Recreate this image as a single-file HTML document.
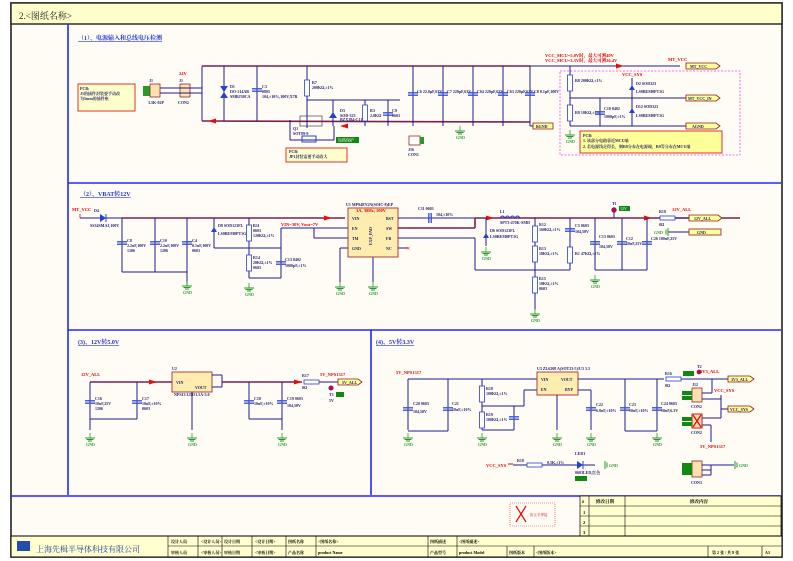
<!DOCTYPE html>
<html><head><meta charset="utf-8"><style>
html,body{margin:0;padding:0;background:#fff;}
svg{display:block;font-family:"Liberation Serif","Noto Serif CJK SC",serif;}
.w{stroke:#1c1c8a;stroke-width:1;fill:none}
.b{stroke:#7a2050;stroke-width:1.6;fill:none}
.f{stroke:#1f2bff;stroke-width:1.6;fill:none}
.t{font-size:4px;fill:#1c1c6a;font-weight:bold}
.r{font-size:4.5px;fill:#e00000;font-weight:bold}
.g{font-size:4px;fill:#2a9a2a;font-weight:bold}
.c{stroke:#3a55d8;stroke-width:1.4}
.res{fill:#fff;stroke:#2a3fd0;stroke-width:0.8}
.d{fill:#1c1c8a}
.nl{fill:#ffff99;stroke:#8a1a1a;stroke-width:0.8}
.nt{fill:#ffffcc;stroke:#e03030;stroke-width:1}
.tb{fill:#ffffd0;stroke:#000;stroke-width:0.7}
.tt{font-size:4.5px;fill:#000;font-weight:bold}
</style></head><body>
<svg width="793" height="561" viewBox="0 0 793 561" xmlns="http://www.w3.org/2000/svg">
<defs>
<g id="gnd"><line x1="0" y1="-5" x2="0" y2="0" stroke="#2a9a2a" stroke-width="0.8"/><path d="M-5 0H5M-3.5 1.5H3.5M-2 3H2" stroke="#2a9a2a" stroke-width="1"/><text x="-4" y="8" class="g">GND</text></g>
<g id="cap"><line x1="-5" y1="-1.2" x2="5" y2="-1.2" class="c"/><line x1="-5" y1="1.2" x2="5" y2="1.2" class="c"/></g>
<g id="res"><rect x="-2.5" y="-8" width="5" height="16" class="res"/></g>
<g id="arr"><path d="M-6 -2.5L2 0L-6 2.5Z" fill="#e01010"/></g>
</defs>
<rect x="0" y="0" width="793" height="561" fill="#fff"/>
<rect x="11" y="3" width="771" height="554" fill="#fffcf6" stroke="#222" stroke-width="1.6"/>
<rect x="11" y="3" width="771" height="21" fill="#ffffcc" stroke="#222" stroke-width="1.4"/>
<text x="19" y="19" font-size="9" fill="#222">2.&lt;图纸名称&gt;</text>
<line x1="68" y1="24" x2="68" y2="495" class="f"/>
<line x1="68" y1="183" x2="781" y2="183" class="f"/>
<line x1="68" y1="330" x2="781" y2="330" class="f"/>
<line x1="371" y1="330" x2="371" y2="495" class="f"/>
<line x1="11" y1="496" x2="781" y2="496" class="f"/>

<text x="78" y="40" font-size="6" fill="#2233cc" font-weight="bold" text-decoration="underline">（1）、电源输入和总线电压检测</text>
<rect x="78" y="84" width="57" height="27" class="nt"/>
<text x="80" y="90" class="t">PCB:</text><text x="80" y="95" class="t">J1的插件封装要手动改</text><text x="80" y="100" class="t">为5mm的插件座</text>
<rect x="143" y="86" width="7" height="10" fill="#2a9a2a"/>
<rect x="150" y="84" width="10" height="13" fill="#ffe0b0" stroke="#8a2a2a" stroke-width="0.8"/>
<text x="149" y="82" class="t">J1</text><text x="148" y="104" class="t">3.5K-02P</text>
<rect x="180" y="84" width="10" height="13" fill="#ffe0b0" stroke="#8a2a2a" stroke-width="0.8"/>
<text x="179" y="82" class="t">J1</text><text x="178" y="104" class="t">CON2</text><text x="179" y="75" class="r">24V</text>
<line x1="160" y1="88" x2="202" y2="88" class="w"/><line x1="160" y1="93" x2="202" y2="93" class="w"/>
<line x1="202" y1="66" x2="202" y2="121" class="w"/>
<line x1="202" y1="66" x2="530" y2="66" class="b"/>
<line x1="530" y1="66" x2="680" y2="66" class="w"/>
<use href="#arr" x="622" y="66"/>
<text x="545" y="57" class="r">VCC_MCU=5.0V时，最大可测40V</text><text x="545" y="62" class="r">VCC_MCU=3.3V时，最大可测26.4V</text>
<text x="668" y="61" class="r">MT_VCC</text>
<polygon points="686,63 716,63 720,66 716,69 686,69" class="nl"/><text x="690" y="68" class="t">MT_VCC</text>
<line x1="202" y1="121" x2="530" y2="122" class="b"/>
<use href="#arr" x="210" y="121" transform="rotate(180 210 121)"/>
<use href="#arr" x="342" y="126" transform="rotate(180 342 126)"/>
<line x1="530" y1="126" x2="533" y2="126" class="w"/>
<polygon points="533,123 553,123 553,129 533,129" class="nl"/><text x="536" y="128" class="t">BGND</text>
<line x1="224" y1="66" x2="224" y2="121" class="w"/>
<path d="M220 86L228 86L224 92Z M220 98L228 98L224 92Z" fill="#2a3fd0"/>
<text x="230" y="88" class="t">D1</text><text x="230" y="93" class="t">DO-214AB</text><text x="230" y="98" class="t">SMBJ30CA</text>
<line x1="257" y1="66" x2="257" y2="121" class="w"/><use href="#cap" x="257" y="90"/>
<text x="262" y="88" class="t">C3</text><text x="262" y="93" class="t">0805</text><text x="262" y="98" class="t">104,±10%,100V,X7R</text>
<line x1="307" y1="66" x2="307" y2="128" class="w"/><use href="#res" x="307" y="88"/>
<text x="312" y="84" class="t">R7</text><text x="312" y="89" class="t">200KΩ,±1%</text>
<line x1="307" y1="100" x2="400" y2="100" class="w"/>
<line x1="333" y1="100" x2="333" y2="126" class="w"/><path d="M329 118L337 118L333 112Z" fill="#2a3fd0"/>
<text x="340" y="112" class="t">D3</text><text x="340" y="117" class="t">SOD-323</text><text x="340" y="121" class="t">BZX384-C11</text>
<line x1="365" y1="100" x2="365" y2="126" class="w"/><use href="#res" x="365" y="113"/><text x="370" y="112" class="t">R3</text><text x="370" y="117" class="t">2.0KΩ</text>
<line x1="388" y1="100" x2="388" y2="126" class="w"/><use href="#cap" x="388" y="114"/><text x="392" y="112" class="t">C9</text><text x="392" y="117" class="t">0603</text>
<rect x="300" y="116" width="22" height="10" fill="none" stroke="#444" stroke-width="0.7"/>
<line x1="290" y1="120" x2="290" y2="140" class="w"/><line x1="290" y1="140" x2="334" y2="140" class="w"/><line x1="334" y1="126" x2="334" y2="140" class="w"/>
<rect x="302" y="136" width="14" height="6" fill="none" stroke="#2a3fd0"/>
<text x="293" y="130" class="t">Q1</text><text x="293" y="135" class="t">SOT89-9</text>
<rect x="336" y="137" width="23" height="6" fill="#118811"/><text x="338" y="141.5" font-size="4" fill="#fff">短路保护</text>
<rect x="286" y="148" width="61" height="14" class="nt"/><text x="289" y="153" class="t">PCB:</text><text x="289" y="158" class="t">JP1封装需要手动改大</text>
<g>
<line x1="413" y1="66" x2="413" y2="126" class="w"/><use href="#cap" x="413" y="94"/><text x="417" y="93" class="t">C6 22.0μF,63V</text>
<line x1="443" y1="66" x2="443" y2="126" class="w"/><use href="#cap" x="443" y="94"/><text x="447" y="93" class="t">C7 220μF,63V</text>
<line x1="473" y1="66" x2="473" y2="126" class="w"/><use href="#cap" x="473" y="94"/><text x="477" y="93" class="t">C64 220μF,63V</text>
<line x1="503" y1="66" x2="503" y2="126" class="w"/><use href="#cap" x="503" y="94"/><text x="507" y="93" class="t">C63 220μF,63V</text>
<line x1="530" y1="66" x2="530" y2="126" class="w"/><use href="#cap" x="530" y="94"/><text x="534" y="93" class="t">C8 0.1μF,100V</text>
</g>
<use href="#gnd" x="460" y="131"/>
<rect x="409" y="136" width="11" height="9" fill="#fff" stroke="#8a2a2a" stroke-width="0.8"/><rect x="420" y="137" width="4" height="7" fill="#2a9a2a"/>
<text x="408" y="151" class="t">J16</text><text x="408" y="156" class="t">CON1</text>
<rect x="560" y="71" width="180" height="84" fill="none" stroke="#ee44ee" stroke-width="0.8" stroke-dasharray="2,1.5"/>
<line x1="570" y1="66" x2="570" y2="126" class="w"/><use href="#res" x="570" y="83"/><use href="#res" x="570" y="113"/>
<text x="575" y="82" class="t">R8 200KΩ,±1%</text><text x="575" y="114" class="t">R9 10KΩ,±1%</text>
<line x1="570" y1="98" x2="686" y2="98" class="w"/><line x1="570" y1="126" x2="686" y2="126" class="w"/>
<line x1="600" y1="98" x2="600" y2="126" class="w"/><use href="#cap" x="600" y="113"/><text x="604" y="110" class="t">C10 0402</text><text x="604" y="118" class="t">1000pF,±1%</text>
<line x1="632" y1="78" x2="632" y2="126" class="w"/>
<path d="M629 90L635 90L632 85Z M629 113L635 113L632 108Z" fill="#2a3fd0"/>
<text x="636" y="85" class="t">D2 SOD323</text><text x="636" y="93" class="t">LS0BEM0PT1G</text><text x="636" y="108" class="t">D12 SOD323</text><text x="636" y="117" class="t">LS0BEM0PT1G</text>
<text x="622" y="76" class="r">VCC_SYS</text>
<polygon points="686,95 716,95 720,98 716,101 686,101" class="nl"/><text x="688" y="100" class="t">MT_VCC_IN</text>
<polygon points="686,123 716,123 720,126 716,129 686,129" class="nl"/><text x="692" y="128" class="t">AGND</text>
<use href="#gnd" x="570" y="135"/>
<rect x="580" y="131" width="142" height="22" fill="#ffff99" stroke="#e03030" stroke-width="1"/>
<text x="583" y="137" class="t">PCB:</text><text x="583" y="142" class="t">1. 该部分电路靠近MCU端</text><text x="583" y="148" class="t">2. 若电源线走得长，则R8分布在电源端，R9等分布在MCU端</text>

<text x="80" y="196" font-size="6" fill="#2233cc" font-weight="bold" text-decoration="underline">（2）、VBAT转12V</text>
<text x="72" y="211" class="r">MT_VCC</text>
<line x1="80" y1="214" x2="80" y2="218" stroke="#e00" stroke-width="0.8"/>
<line x1="80" y1="218" x2="122" y2="218" class="w"/>
<path d="M100 214L106 218L100 222Z" fill="#2a3fd0"/><line x1="106" y1="214" x2="106" y2="222" stroke="#2a3fd0"/>
<text x="94" y="212" class="t">D4</text><text x="90" y="227" class="t">SS34SMAJ,100V</text>
<line x1="122" y1="218" x2="345" y2="218" class="b"/><use href="#arr" x="330" y="218"/>
<line x1="122" y1="218" x2="122" y2="272" class="w"/><line x1="155" y1="218" x2="155" y2="272" class="w"/><line x1="187" y1="218" x2="187" y2="286" class="w"/>
<line x1="122" y1="272" x2="187" y2="272" class="w"/>
<use href="#cap" x="122" y="243"/><use href="#cap" x="155" y="243"/><use href="#cap" x="187" y="243"/>
<text x="127" y="242" class="t">C8</text><text x="127" y="247" class="t">2.2uF,100V</text><text x="127" y="252" class="t">1206</text>
<text x="160" y="242" class="t">C10</text><text x="160" y="247" class="t">2.2uF,100V</text><text x="160" y="252" class="t">1206</text>
<text x="192" y="242" class="t">C4</text><text x="192" y="247" class="t">0.1uF,100V</text><text x="192" y="252" class="t">0603</text>
<use href="#gnd" x="187" y="286"/>
<line x1="214" y1="218" x2="214" y2="248" class="w"/><path d="M211 232L217 232L214 227Z" fill="#2a3fd0"/>
<text x="218" y="227" class="t">D8 SOD123FL</text><text x="218" y="235" class="t">LS0BEM0PT1G</text>
<line x1="249" y1="218" x2="249" y2="278" class="w"/><use href="#res" x="249" y="233"/><use href="#res" x="249" y="263"/>
<text x="253" y="227" class="t">R11</text><text x="253" y="232" class="t">0603</text><text x="253" y="237" class="t">120KΩ,±1%</text>
<text x="253" y="259" class="t">R14</text><text x="253" y="264" class="t">20KΩ,±1%</text><text x="253" y="269" class="t">0603</text>
<line x1="214" y1="248" x2="281" y2="248" class="w"/><line x1="281" y1="228" x2="281" y2="278" class="w"/><line x1="249" y1="278" x2="281" y2="278" class="w"/>
<use href="#cap" x="281" y="263"/><text x="285" y="261" class="t">C13 0402</text><text x="285" y="267" class="t">1000pF,±1%</text>
<use href="#gnd" x="249" y="288"/>
<text x="281" y="226" class="r">VIN=30V, Vout=7V</text>
<line x1="281" y1="228" x2="348" y2="228" class="w"/><line x1="314" y1="228" x2="314" y2="238" class="w"/><line x1="314" y1="238" x2="348" y2="238" class="w"/>
<line x1="340" y1="248" x2="348" y2="248" class="w"/><line x1="340" y1="248" x2="340" y2="282" class="w"/><use href="#gnd" x="340" y="287"/>
<line x1="373" y1="257" x2="373" y2="282" class="w"/><use href="#gnd" x="373" y="287"/>
<rect x="348" y="208" width="50" height="49" fill="#ffedb0" stroke="#b04040" stroke-width="1"/>
<text x="346" y="206" class="t">U1  MP9487GN(SOIC-8)EP</text><text x="356" y="212" class="r">3A, 30Hz, 100V</text>
<text x="352" y="220" class="t">VIN</text><text x="352" y="230" class="t">EN</text><text x="352" y="240" class="t">TM</text><text x="352" y="250" class="t">GND</text>
<text x="386" y="220" class="t">BST</text><text x="386" y="230" class="t">SW</text><text x="386" y="240" class="t">FB</text><text x="386" y="250" class="t">NC</text>
<text x="372" y="245" class="t" transform="rotate(-90 372 245)">EXP_PAD</text>
<line x1="398" y1="218" x2="475" y2="218" class="w"/><line x1="398" y1="228" x2="475" y2="228" class="b"/><line x1="475" y1="218" x2="475" y2="228" class="b"/>
<line x1="398" y1="238" x2="475" y2="238" class="w"/><line x1="475" y1="238" x2="475" y2="270" class="w"/>
<line x1="398" y1="248" x2="407" y2="248" class="w"/><text x="406" y="250" font-size="5" fill="#e00">✕</text>
<use href="#cap" x="430" y="218" transform="rotate(90 430 218)"/><text x="418" y="210" class="t">C11  0603</text><text x="436" y="216" class="t">104,±10%</text>
<line x1="475" y1="218" x2="740" y2="218" class="b"/><use href="#arr" x="492" y="218"/><use href="#arr" x="650" y="218"/>
<path d="M500 218q2.5-4 5 0q2.5-4 5 0q2.5-4 5 0q2.5-4 5 0" stroke="#2a3fd0" fill="none"/>
<text x="500" y="213" class="t">L1</text><text x="500" y="224" class="t">SPT3-470K-SMD</text>
<line x1="486" y1="218" x2="486" y2="246" class="w"/><path d="M483 238L489 238L486 233Z" fill="#2a3fd0"/><use href="#gnd" x="486" y="252"/>
<text x="490" y="232" class="t">D6 SOD123FL</text><text x="490" y="238" class="t">LS0BEM0PT1G</text>
<line x1="535" y1="218" x2="535" y2="310" class="w"/><use href="#res" x="535" y="234"/><use href="#res" x="535" y="254"/><use href="#res" x="535" y="285"/>
<text x="539" y="226" class="t">R12</text><text x="539" y="231" class="t">160KΩ,±1%</text><text x="539" y="250" class="t">R13</text><text x="539" y="255" class="t">10KΩ,±1%</text>
<text x="539" y="280" class="t">R15</text><text x="539" y="285" class="t">10KΩ,±1%</text><text x="539" y="290" class="t">0603</text>
<use href="#gnd" x="535" y="314"/>
<line x1="475" y1="270" x2="570" y2="270" class="w"/><line x1="570" y1="218" x2="570" y2="270" class="w"/>
<use href="#cap" x="570" y="230"/><use href="#res" x="570" y="255"/><text x="575" y="227" class="t">C5 0603</text><text x="575" y="233" class="t">104,50V</text><text x="575" y="255" class="t">R1 47KΩ,±1%</text>
<line x1="595" y1="218" x2="595" y2="270" class="w"/><line x1="622" y1="218" x2="622" y2="270" class="w"/><line x1="647" y1="218" x2="647" y2="270" class="w"/>
<line x1="595" y1="270" x2="647" y2="270" class="w"/><use href="#gnd" x="595" y="280"/>
<use href="#cap" x="595" y="243"/><use href="#cap" x="622" y="243"/><use href="#cap" x="647" y="243"/>
<text x="599" y="238" class="t">C13 0603</text><text x="599" y="248" class="t">104,50V</text><text x="626" y="240" class="t">C12</text><text x="626" y="245" class="t">10uF,25V</text><text x="651" y="240" class="t">C26 100uF,25V</text>
<circle cx="614" cy="210" r="2.3" fill="#e00" stroke="#2233cc" stroke-width="0.8"/><text x="612" y="205" class="t">T1</text>
<rect x="619" y="206" width="11" height="5" fill="#118811"/><text x="620" y="210" font-size="4" fill="#fff">12V</text>
<line x1="614" y1="212" x2="614" y2="218" class="w"/>
<rect x="660" y="216" width="15" height="4" class="res"/><text x="659" y="213" class="t">R10</text><text x="659" y="226" class="t">0Ω</text>
<line x1="675" y1="218" x2="689" y2="218" class="w"/><text x="672" y="211" class="r">12V_ALL</text>
<polygon points="689,215 718,215 722,218 718,221 689,221" class="nl"/><text x="694" y="220" class="t">12V_ALL</text>
<line x1="668" y1="232" x2="689" y2="232" class="w"/><path d="M668 228V236M666 229.5V234.5" stroke="#2a9a2a"/><text x="654" y="234" class="g">GND</text>
<rect x="689" y="229" width="32" height="6" class="nl"/><text x="697" y="234" class="t">GND</text>

<text x="78" y="344" font-size="6" fill="#2233cc" font-weight="bold" text-decoration="underline">(3)、12V转5.0V</text>
<text x="81" y="376" class="r">12V_ALL</text>
<line x1="90" y1="382" x2="172" y2="382" class="b"/><use href="#arr" x="155" y="382"/>
<line x1="90" y1="382" x2="90" y2="430" class="w"/><line x1="137" y1="382" x2="137" y2="419" class="w"/><line x1="90" y1="419" x2="137" y2="419" class="w"/>
<use href="#cap" x="90" y="402"/><use href="#cap" x="137" y="402"/><use href="#gnd" x="90" y="438"/>
<text x="95" y="400" class="t">C16</text><text x="95" y="405" class="t">10uF,25V</text><text x="95" y="410" class="t">1206</text>
<text x="142" y="400" class="t">C17</text><text x="142" y="405" class="t">10uF,±10%</text><text x="142" y="410" class="t">0603</text>
<rect x="172" y="372" width="40" height="20" fill="#ffedb0" stroke="#b04040" stroke-width="1"/>
<text x="172" y="370" class="t">U2</text><text x="176" y="384" class="t">VIN</text><text x="195" y="389" class="t">VOUT</text>
<text x="174" y="396" class="t">NPS13 LDO1.5A-5.0</text>
<line x1="192" y1="392" x2="192" y2="430" class="w"/><use href="#gnd" x="192" y="438"/>
<line x1="212" y1="375" x2="222" y2="375" class="w"/><line x1="212" y1="387" x2="222" y2="387" class="w"/><line x1="222" y1="375" x2="222" y2="387" class="w"/>
<line x1="222" y1="382" x2="302" y2="382" class="b"/><use href="#arr" x="300" y="382"/>
<line x1="249" y1="382" x2="249" y2="419" class="w"/><line x1="282" y1="382" x2="282" y2="430" class="w"/><line x1="249" y1="419" x2="282" y2="419" class="w"/>
<use href="#cap" x="249" y="402"/><use href="#cap" x="282" y="402"/><use href="#gnd" x="282" y="438"/>
<text x="254" y="400" class="t">C18</text><text x="254" y="405" class="t">10uF,±10%</text><text x="287" y="400" class="t">C19 0603</text><text x="287" y="407" class="t">104,50V</text>
<rect x="304" y="380" width="15" height="4" class="res"/><text x="302" y="377" class="t">R17</text><text x="302" y="389" class="t">0Ω</text>
<line x1="319" y1="382" x2="338" y2="382" class="w"/><text x="320" y="376" class="r">5V_NPS1317</text>
<circle cx="331" cy="388" r="2.2" fill="#e00" stroke="#2233cc" stroke-width="0.7"/><text x="329" y="396" class="t">T3</text><text x="329" y="402" class="t">5V</text>
<rect x="336" y="392" width="8" height="5" fill="#118811"/>
<polygon points="338,379 358,379 362,382 358,385 338,385" class="nl"/><text x="342" y="384" class="t">5V_ALL</text>

<text x="376" y="344" font-size="6" fill="#2233cc" font-weight="bold" text-decoration="underline">(4)、5V转3.3V</text>
<text x="396" y="374" class="r">5V_NPS1317</text>
<line x1="408" y1="379" x2="537" y2="379" class="w"/>
<line x1="408" y1="379" x2="408" y2="430" class="w"/><line x1="448" y1="379" x2="448" y2="431" class="w"/><line x1="408" y1="431" x2="448" y2="431" class="w"/>
<use href="#cap" x="408" y="409"/><use href="#cap" x="448" y="409"/><use href="#gnd" x="408" y="438"/>
<text x="413" y="405" class="t">C20 0603</text><text x="413" y="413" class="t">104,50V</text><text x="452" y="405" class="t">C21</text><text x="452" y="411" class="t">10uF,±10%</text>
<line x1="482" y1="379" x2="482" y2="430" class="w"/><use href="#res" x="482" y="394"/><use href="#res" x="482" y="420"/><use href="#gnd" x="482" y="438"/>
<text x="486" y="390" class="t">R18</text><text x="486" y="395" class="t">100KΩ,±1%</text><text x="486" y="416" class="t">R19</text><text x="486" y="421" class="t">100KΩ,±1%</text>
<line x1="482" y1="406" x2="514" y2="406" class="w"/><line x1="514" y1="406" x2="514" y2="430" class="w"/><line x1="482" y1="430" x2="514" y2="430" class="w"/><use href="#cap" x="514" y="418"/>
<line x1="524" y1="390" x2="537" y2="390" class="w"/><line x1="524" y1="390" x2="524" y2="406" class="w"/><line x1="514" y1="406" x2="524" y2="406" class="w"/>
<rect x="537" y="372" width="41" height="23" fill="#ffedb0" stroke="#b04040" stroke-width="1"/>
<text x="537" y="370" class="t">U3  ZL6208 A(SOT23-5)/U3 3.3</text>
<text x="541" y="381" class="t">VIN</text><text x="541" y="391" class="t">EN</text><text x="561" y="381" class="t">VOUT</text><text x="565" y="391" class="t">BYP</text>
<line x1="557" y1="395" x2="557" y2="430" class="w"/><use href="#gnd" x="557" y="438"/>
<line x1="578" y1="390" x2="591" y2="390" class="w"/><line x1="591" y1="390" x2="591" y2="430" class="w"/><use href="#cap" x="591" y="409"/><use href="#gnd" x="591" y="438"/>
<text x="596" y="406" class="t">C22</text><text x="596" y="412" class="t">6.8nF,±10%</text>
<line x1="578" y1="379" x2="664" y2="379" class="w"/>
<line x1="625" y1="379" x2="625" y2="431" class="w"/><line x1="657" y1="379" x2="657" y2="431" class="w"/><line x1="625" y1="431" x2="657" y2="431" class="w"/>
<use href="#cap" x="625" y="409"/><use href="#cap" x="657" y="409"/><use href="#gnd" x="657" y="438"/>
<text x="629" y="406" class="t">C23</text><text x="629" y="412" class="t">10uF,±10%</text><text x="661" y="405" class="t">C24 0603</text><text x="661" y="412" class="t">10uF,6.3V</text>
<rect x="666" y="377" width="15" height="4" class="res"/><text x="665" y="375" class="t">R16</text><text x="665" y="387" class="t">0Ω</text>
<line x1="681" y1="379" x2="728" y2="379" class="w"/>
<circle cx="699" cy="372" r="2" fill="#e00" stroke="#2233cc" stroke-width="0.7"/><text x="697" y="368" class="t">T2</text>
<rect x="683" y="371" width="11" height="5" fill="#118811"/><text x="700" y="373" class="r">3V3_ALL</text>
<polygon points="728,376 750,376 754,379 750,382 728,382" class="nl"/><text x="731" y="381" class="t">3V3_ALL</text>
<rect x="692" y="388" width="10" height="14" fill="#ffe0b0" stroke="#8a2a2a" stroke-width="0.8"/>
<rect x="682" y="391" width="10" height="4" fill="#118811"/><rect x="682" y="396" width="10" height="4" fill="#118811"/>
<text x="692" y="386" class="t">J12</text><text x="691" y="408" class="t">CON2</text>
<line x1="702" y1="399" x2="721" y2="399" class="w"/><line x1="712" y1="379" x2="712" y2="393" class="w"/><line x1="702" y1="393" x2="712" y2="393" class="w"/>
<line x1="721" y1="395" x2="721" y2="418" class="w"/><text x="714" y="392" class="r">VCC_SYS</text>
<line x1="721" y1="409" x2="728" y2="409" class="w"/>
<polygon points="728,406 750,406 754,409 750,412 728,412" class="nl"/><text x="730" y="411" class="t">VCC_SYS</text>
<rect x="692" y="414" width="10" height="14" fill="#ffe0b0" stroke="#c02020" stroke-width="1"/>
<path d="M693 415L701 427M701 415L693 427" stroke="#e00" stroke-width="1.2"/>
<rect x="682" y="417" width="10" height="4" fill="#118811"/><rect x="682" y="422" width="10" height="4" fill="#118811"/>
<text x="691" y="434" class="t">CON2</text>
<line x1="702" y1="418" x2="721" y2="418" class="w"/><line x1="702" y1="425" x2="711" y2="425" class="w"/><line x1="711" y1="425" x2="711" y2="442" class="w"/>
<text x="700" y="448" class="r">5V_NPS1317</text>
<text x="486" y="467" class="r">VCC_SYS</text><line x1="508" y1="464" x2="513" y2="464" stroke="#e00"/>
<line x1="513" y1="465" x2="595" y2="465" class="w"/>
<rect x="527" y="463" width="15" height="4" class="res"/><text x="517" y="462" class="t">R18</text><text x="547" y="464" class="t">0.5K,±1%</text>
<path d="M577 461L583 465L577 469Z" fill="#2a3fd0"/><line x1="583" y1="461" x2="583" y2="469" stroke="#2a3fd0"/>
<text x="575" y="455" class="t">LED1</text><text x="575" y="474" class="t">0603LED,红色</text>
<rect x="575" y="476" width="12" height="5" fill="#118811"/>
<path d="M605 461V469M607 462.5V467.5" stroke="#2a9a2a"/><text x="609" y="467" class="g">GND</text>
<rect x="692" y="461" width="10" height="16" fill="#ffe0b0" stroke="#8a2a2a" stroke-width="0.8"/>
<rect x="682" y="463" width="10" height="4" fill="#118811"/><rect x="682" y="467" width="10" height="4" fill="#118811"/><rect x="682" y="471" width="10" height="4" fill="#118811"/>
<text x="691" y="484" class="t">CON3</text>
<line x1="702" y1="465" x2="734" y2="465" class="w"/><line x1="711" y1="465" x2="711" y2="475" class="w"/><line x1="702" y1="470" x2="711" y2="470" class="w"/><line x1="702" y1="475" x2="711" y2="475" class="w"/>
<path d="M735 461V469M737 462.5V467.5" stroke="#2a9a2a"/><text x="739" y="467" class="g">GND</text>

<rect x="510" y="503" width="45" height="23" fill="none" stroke="#e03030" stroke-width="0.6" stroke-dasharray="1,1"/>
<path d="M516 506L526 522M526 506L516 522" stroke="#e00" stroke-width="1.2"/><text x="530" y="516" font-size="3.5" fill="#e00">防止半焊接</text>
<rect x="580" y="496" width="201" height="40" class="tb"/>
<g stroke="#000" stroke-width="0.6">
<line x1="580" y1="506" x2="781" y2="506"/><line x1="580" y1="516" x2="781" y2="516"/><line x1="580" y1="526" x2="781" y2="526"/>
<line x1="589" y1="496" x2="589" y2="536"/><line x1="625" y1="496" x2="625" y2="536"/>
</g>
<text x="582" y="503" class="tt">#</text><text x="596" y="503" class="tt">修改日期</text><text x="690" y="503" class="tt">修改内容</text>
<text x="583" y="514" class="tt">1</text><text x="583" y="524" class="tt">2</text><text x="583" y="534" class="tt">3</text>
<rect x="11" y="536" width="771" height="21" fill="#ffffd0" stroke="#000" stroke-width="1"/>
<rect x="17" y="541" width="13" height="10" fill="#1f4faa"/>
<text x="36" y="552" font-size="8" fill="#1f3f99">上海先楫半导体科技有限公司</text>
<g stroke="#000" stroke-width="0.6">
<line x1="168" y1="536" x2="168" y2="557"/><line x1="168" y1="546" x2="782" y2="546"/>
<line x1="198" y1="536" x2="198" y2="557"/><line x1="222" y1="536" x2="222" y2="557"/><line x1="252" y1="536" x2="252" y2="557"/><line x1="286" y1="536" x2="286" y2="557"/><line x1="316" y1="536" x2="316" y2="557"/>
<line x1="428" y1="536" x2="428" y2="557"/><line x1="457" y1="536" x2="457" y2="557"/><line x1="507" y1="546" x2="507" y2="557"/><line x1="534" y1="546" x2="534" y2="557"/>
<line x1="708" y1="546" x2="708" y2="557"/><line x1="762" y1="546" x2="762" y2="557"/>
</g>
<g class="tt">
<text x="171" y="543" font-size="4">设计人员</text><text x="201" y="543" font-size="4">&lt;设计人员&gt;</text><text x="224" y="543" font-size="4">设计日期</text><text x="255" y="543" font-size="4">&lt;设计日期&gt;</text><text x="288" y="543" font-size="4">图纸名称</text><text x="318" y="543" font-size="4">&lt;图纸名称&gt;</text>
<text x="430" y="543" font-size="4">图纸描述</text><text x="459" y="543" font-size="4">&lt;图纸描述&gt;</text>
<text x="171" y="554" font-size="4">审核人员</text><text x="201" y="554" font-size="4">&lt;审核人员&gt;</text><text x="224" y="554" font-size="4">审核日期</text><text x="255" y="554" font-size="4">&lt;审核日期&gt;</text><text x="288" y="554" font-size="4">产品名称</text><text x="318" y="554" font-size="4">product Name</text>
<text x="430" y="554" font-size="4">产品型号</text><text x="459" y="554" font-size="4">product Model</text><text x="509" y="554" font-size="4">图纸版本</text><text x="536" y="554" font-size="4">&lt;图纸版本&gt;</text>
<text x="712" y="554" font-size="4">第 2 张 / 共 8 张</text><text x="765" y="554" font-size="4">A3</text>
</g>
</svg>
</body></html>
